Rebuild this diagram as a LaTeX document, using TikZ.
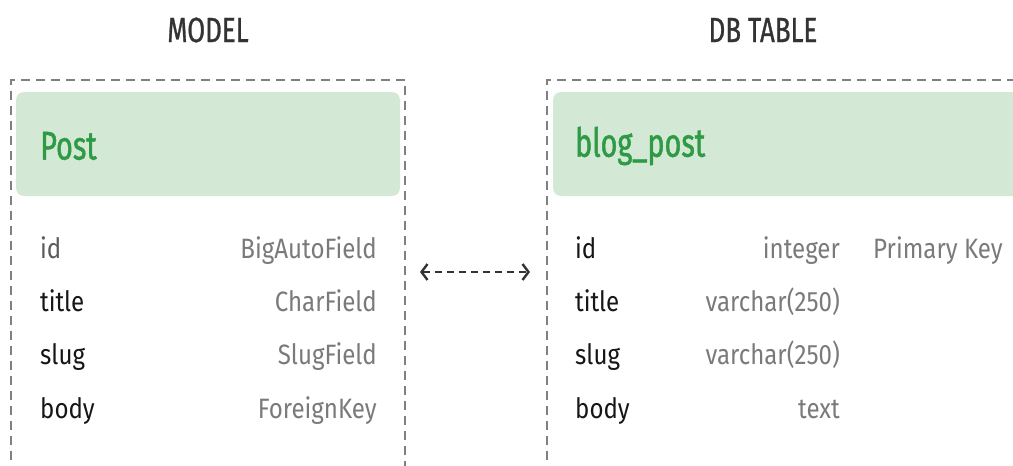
\documentclass[tikz,border=0pt]{standalone}
\usepackage{fontspec}
\setmainfont{Fira Sans}[FakeStretch=0.86]
\newfontfamily\headfont{Fira Sans}[FakeStretch=0.72,FakeBold=1.2]
\newfontfamily\titlefont{Fira Sans}[FakeStretch=0.74,FakeBold=0.8]
\usetikzlibrary{arrows.meta}
\definecolor{framegray}{HTML}{808080}
\definecolor{headfill}{HTML}{D3E9D6}
\definecolor{headgreen}{HTML}{2E9A45}
\definecolor{typegray}{HTML}{7A7A7A}
\definecolor{namedark}{HTML}{161616}
\definecolor{idgray}{HTML}{5A5A5A}
\definecolor{titledark}{HTML}{333333}
\tikzset{
  frame/.style={draw=framegray, line width=2pt, dash pattern=on 9pt off 6pt},
  header/.style={fill=headfill, rounded corners=8pt},
  headtext/.style={anchor=west, inner sep=0pt, text=headgreen, font=\headfont\fontsize{40}{40}\selectfont},
  paneltitle/.style={inner sep=0pt, text=titledark, font=\titlefont\fontsize{35}{35}\selectfont},
  fname/.style={anchor=base west, inner sep=0pt, text=namedark, font=\fontsize{28}{28}\selectfont},
  ftype/.style={anchor=base east, inner sep=0pt, text=typegray, font=\fontsize{28}{28}\selectfont},
  fnote/.style={anchor=base west, inner sep=0pt, text=typegray, font=\fontsize{28}{28}\selectfont},
  link/.style={draw=titledark, line width=2pt, dash pattern=on 7pt off 5pt,
    {Straight Barb[length=6pt,width=16pt,line width=2.4pt]}-{Straight Barb[length=6pt,width=16pt,line width=2.4pt]}}
}
\begin{document}
\begin{tikzpicture}[x=1pt,y=-1pt]
\useasboundingbox (0,0) rectangle (1013,466);
\clip (0,0) rectangle (1013,466);

% panel titles
\node[paneltitle] (modeltitle) at (208,30) {MODEL};
\node[paneltitle] (dbtitle) at (763,30) {DB TABLE};

% dashed frames (open at the bottom / right edge)
\draw[frame] (11,490) -- (11,80) -- (405,80) -- (405,490);
\draw[frame] (547,490) -- (547,80) -- (1040,80);

% green headers
\fill[header] (16,92) rectangle (400,196);
\fill[header] (553,92) rectangle (1040,196);
\node[headtext] (post) at (40,146) {Post};
\node[headtext] (blogpost) at (575,146) {blog\_post};

% model fields
\node[fname, text=idgray] (mid) at (40,258) {id};
\node[fname] (mtitle) at (40,311) {title};
\node[fname] (mslug) at (40,364) {slug};
\node[fname] (mbody) at (40,418) {body};
\node[ftype] (mtid) at (377,258) {BigAutoField};
\node[ftype] (mttitle) at (377,311) {CharField};
\node[ftype] (mtslug) at (377,364) {SlugField};
\node[ftype] (mtbody) at (377,418) {ForeignKey};

% table columns
\node[fname] (tid) at (575,258) {id};
\node[fname] (ttitle) at (575,311) {title};
\node[fname] (tslug) at (575,364) {slug};
\node[fname] (tbody) at (575,418) {body};
\node[ftype] (ttid) at (840,258) {integer};
\node[ftype] (tttitle) at (840,311) {varchar(250)};
\node[ftype] (ttslug) at (840,364) {varchar(250)};
\node[ftype] (ttbody) at (840,418) {text};
\node[fnote] (pk) at (873,258) {Primary Key};

% mapping between model and table
\coordinate (linkl) at (420,272);
\coordinate (linkr) at (530,272);
\draw[link] (linkl) -- (linkr);
\end{tikzpicture}
\end{document}
